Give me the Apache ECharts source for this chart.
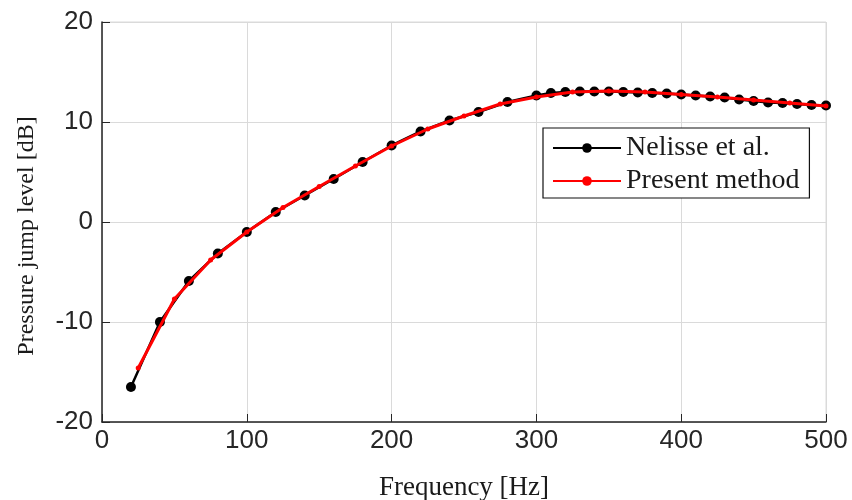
<!DOCTYPE html>
<html>
<head>
<meta charset="utf-8">
<script src="https://cdn.jsdelivr.net/npm/echarts@6/dist/echarts.min.js"></script>
<style>
  html, body { margin: 0; padding: 0; background: #fff; }
  #chart { width: 852px; height: 500px; }
</style>
</head>
<body>
<div id="chart"></div>
<script>
// Frequency (Hz) and pressure jump level (dB) for the reference solution
const nelisseFreq = [20, 40, 60, 80, 100, 120, 140, 160, 180, 200, 220, 240, 260, 280,
  300, 310, 320, 330, 340, 350, 360, 370, 380, 390, 400, 410, 420, 430, 440, 450,
  460, 470, 480, 490, 500];
const nelisseLevel = [-16.5, -10.0, -5.9, -3.15, -1.0, 1.0, 2.65, 4.3, 6.0, 7.65, 9.05, 10.15, 11.0, 12.0,
  12.65, 12.9, 13.0, 13.05, 13.05, 13.05, 13.0, 12.95, 12.9, 12.85, 12.75, 12.65, 12.55, 12.45, 12.25, 12.1,
  11.95, 11.9, 11.8, 11.7, 11.65];

// Frequency (Hz) and pressure jump level (dB) computed by the present method
const presentFreq = [25, 50, 75, 100, 125, 150, 175, 200, 225, 250, 275, 300, 325, 350,
  375, 400, 425, 450, 475, 500];
const presentLevel = [-14.6, -7.7, -3.8, -1.0, 1.45, 3.55, 5.6, 7.6, 9.3, 10.6, 11.8, 12.5, 13.0, 13.1,
  13.0, 12.75, 12.5, 12.2, 11.9, 11.6];

const xTicks = [0, 100, 200, 300, 400, 500];
const yTicks = [-20, -10, 0, 10, 20];

const pairs = (xs, ys) => xs.map((x, i) => [x, ys[i]]);

const tickFont = { fontFamily: 'Liberation Sans', fontSize: 26, color: '#262626' };
const serif = 'Liberation Serif';

const chart = echarts.init(document.getElementById('chart'), null, { renderer: 'canvas' });
chart.setOption({
  backgroundColor: '#ffffff',
  animation: false,
  grid: {
    left: 102, right: 26, top: 22, bottom: 78,
    outerBoundsMode: 'none',
    show: true, borderColor: '#dadada', borderWidth: 1
  },
  xAxis: {
    type: 'value',
    min: xTicks[0], max: xTicks[xTicks.length - 1], interval: 100,
    name: 'Frequency [Hz]',
    nameLocation: 'middle', nameGap: 52,
    nameTextStyle: { fontFamily: serif, fontSize: 27, color: '#1a1a1a' },
    axisLine: { show: true, onZero: false, lineStyle: { color: '#262626', width: 1.5 } },
    axisTick: { show: true, inside: true, length: 8, lineStyle: { color: '#262626' } },
    axisLabel: Object.assign({ margin: 6 }, tickFont),
    splitLine: { show: true, lineStyle: { color: '#dadada', width: 1 } }
  },
  yAxis: {
    type: 'value',
    min: yTicks[0], max: yTicks[yTicks.length - 1], interval: 10,
    axisLine: { show: true, onZero: false, lineStyle: { color: '#262626', width: 1.5 } },
    axisTick: { show: true, inside: true, length: 8, lineStyle: { color: '#262626' } },
    axisLabel: Object.assign({ margin: 9 }, tickFont),
    splitLine: { show: true, lineStyle: { color: '#dadada', width: 1 } }
  },
  graphic: [{
    type: 'text',
    x: 27, y: 236,
    rotation: Math.PI / 2,
    style: {
      text: 'Pressure jump level [dB]',
      fontFamily: serif, fontSize: 24, fill: '#1a1a1a',
      align: 'center', verticalAlign: 'middle'
    }
  }],
  legend: {
    orient: 'vertical',
    left: 543, top: 128,
    backgroundColor: '#ffffff',
    borderColor: '#111111', borderWidth: 1.2, borderRadius: 0,
    padding: [6, 10, 3, 9],
    itemWidth: 68, itemHeight: 12, itemGap: 5,
    textStyle: { fontFamily: serif, fontSize: 28, color: '#1a1a1a' },
    data: ['Nelisse et al.', 'Present method']
  },
  series: [
    {
      name: 'Nelisse et al.',
      type: 'line',
      data: pairs(nelisseFreq, nelisseLevel),
      symbol: 'circle', symbolSize: 10,
      itemStyle: { color: '#000000' },
      lineStyle: { color: '#000000', width: 2.5 },
      z: 2
    },
    {
      name: 'Present method',
      type: 'line',
      data: pairs(presentFreq, presentLevel),
      symbol: 'circle', symbolSize: 5,
      itemStyle: { color: '#ff0000' },
      lineStyle: { color: '#ff0000', width: 3 },
      z: 3
    }
  ]
});
</script>
</body>
</html>
